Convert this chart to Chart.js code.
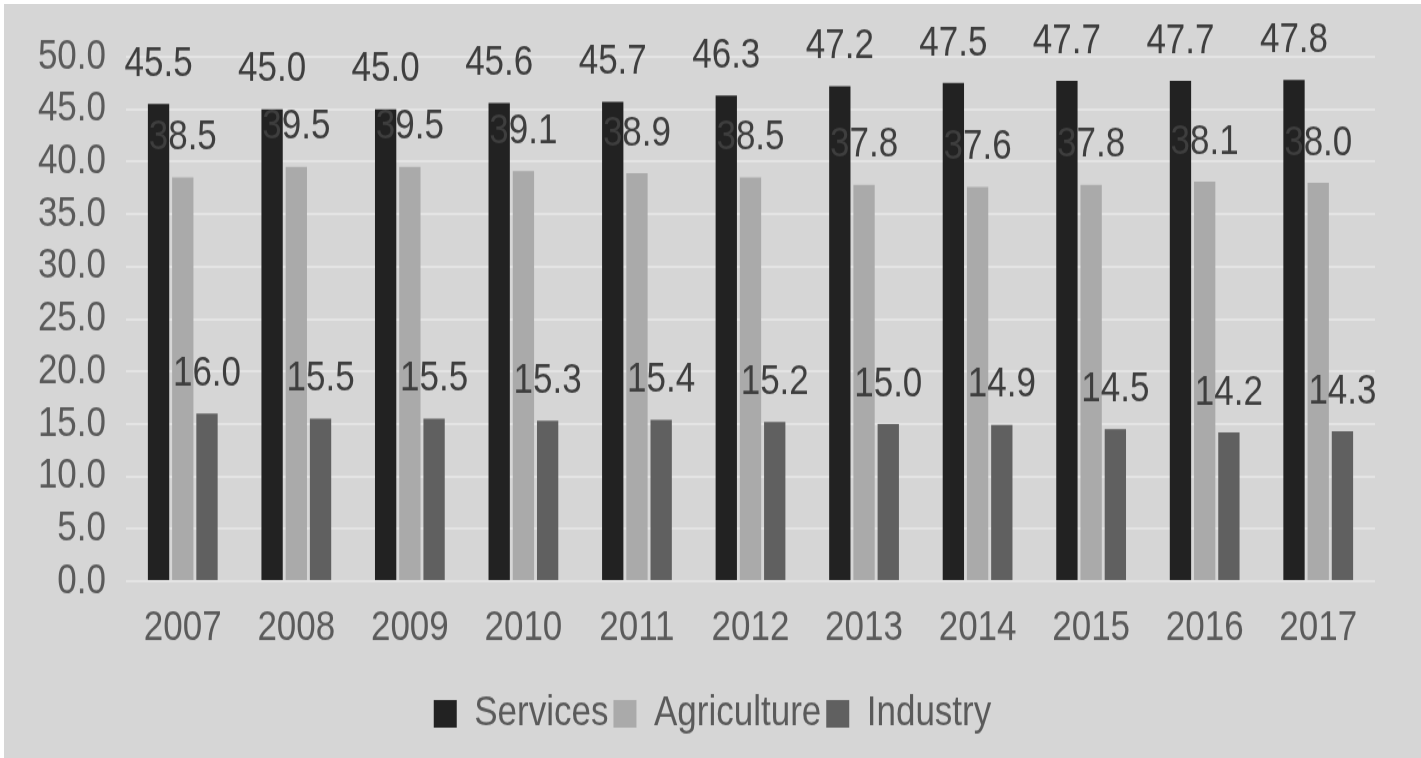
<!DOCTYPE html>
<html>
<head>
<meta charset="utf-8">
<script src="https://cdn.jsdelivr.net/npm/chart.js@4.4.1/dist/chart.umd.min.js"></script>
<style>
  html, body { margin: 0; padding: 0; background: #fff; }
  .frame {
    position: absolute; left: 4px; top: 4px;
    width: 1417px; height: 754px;
    background: #d6d6d6; overflow: hidden;
  }
  .stretch {
    width: 1417px; height: 628px;
    transform: scaleY(1.2); transform-origin: 0 0;
  }
</style>
</head>
<body>
<div class="frame">
  <div class="stretch"><canvas id="chart" width="1417" height="628"></canvas></div>
</div>
<script>
const years = ['2007', '2008', '2009', '2010', '2011', '2012', '2013', '2014', '2015', '2016', '2017'];
const services = [45.5, 45.0, 45.0, 45.6, 45.7, 46.3, 47.2, 47.5, 47.7, 47.7, 47.8];
const agriculture = [38.5, 39.5, 39.5, 39.1, 38.9, 38.5, 37.8, 37.6, 37.8, 38.1, 38.0];
const industry = [16.0, 15.5, 15.5, 15.3, 15.4, 15.2, 15.0, 14.9, 14.5, 14.2, 14.3];

const FONT = '"Liberation Sans", Arial, sans-serif';
const SIZE = 35;

// value above each bar, lifted clear of the bar top
const barValues = {
  id: 'barValues',
  afterDatasetsDraw (chart) {
    const { ctx } = chart;
    ctx.save();
    ctx.font = `${SIZE}px ${FONT}`;
    ctx.fillStyle = '#3e3e3e';
    ctx.textAlign = 'center';
    ctx.textBaseline = 'middle';
    chart.data.datasets.forEach((ds, i) => {
      chart.getDatasetMeta(i).data.forEach((bar, j) => {
        ctx.fillText(ds.data[j].toFixed(1), bar.x, bar.y - 33);
      });
    });
    ctx.restore();
  },
};

new Chart(document.getElementById('chart'), {
  type: 'bar',
  data: {
    labels: years,
    datasets: [
      { label: 'Services', data: services, backgroundColor: '#222222' },
      { label: 'Agriculture', data: agriculture, backgroundColor: '#aaaaaa' },
      { label: 'Industry', data: industry, backgroundColor: '#606060' },
    ],
  },
  options: {
    responsive: false,
    animation: false,
    devicePixelRatio: 1,
    categoryPercentage: 0.64,
    barPercentage: 0.88,
    layout: { padding: { top: 44, right: 0, bottom: 9, left: 0 } },
    scales: {
      x: {
        grid: { display: false },
        border: { display: false },
        ticks: { color: '#5a5a5a', padding: 10, font: { family: FONT, size: SIZE } },
        afterFit (scale) { scale.height = 88; },
      },
      y: {
        min: 0,
        max: 50,
        grid: { color: '#e4e4e4', lineWidth: 2, drawTicks: false },
        border: { display: false },
        ticks: {
          stepSize: 5,
          autoSkip: false,
          color: '#5a5a5a',
          padding: 20,
          font: { family: FONT, size: SIZE },
          callback: (v) => Number(v).toFixed(1),
        },
        afterFit (scale) { scale.width = 122; },
      },
      // empty right-hand gutter, keeps the legend centred on the whole canvas
      gutter: {
        type: 'linear',
        position: 'right',
        grid: { display: false },
        border: { display: false },
        ticks: { display: false },
        afterFit (scale) { scale.width = 46; },
      },
    },
    plugins: {
      tooltip: { enabled: false },
      legend: {
        position: 'bottom',
        labels: {
          color: '#5a5a5a',
          boxWidth: 23,
          boxHeight: 23,
          padding: 5,
          font: { family: FONT, size: SIZE },
        },
      },
    },
  },
  plugins: [barValues],
});
</script>
</body>
</html>
